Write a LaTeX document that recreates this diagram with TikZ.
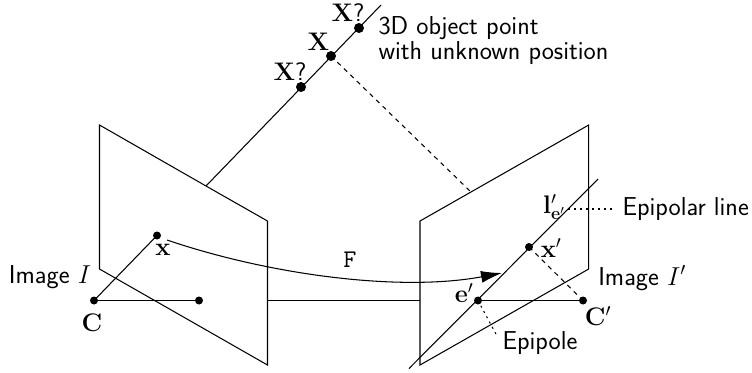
\documentclass[tikz,border=0pt]{standalone}
\usepackage{fix-cm}
\usetikzlibrary{arrows.meta}
\begin{document}
\begin{tikzpicture}[x=1bp,y=-1bp,line width=1.05bp,
  dot/.style={circle,fill=black,inner sep=0pt,minimum size=8bp},
  bigdot/.style={circle,fill=black,inner sep=0pt,minimum size=10bp},
  lab/.style={inner sep=0pt,font=\fontsize{26}{28}\selectfont\sffamily},
  mlab/.style={inner sep=0pt,font=\fontsize{25.5}{28}\selectfont},
  dsh/.style={dash pattern=on 4.5bp off 4.5bp},
  dtd/.style={dash pattern=on 2bp off 4bp}]
\useasboundingbox (0,0) rectangle (752,372);
% planes
\draw (206,186) -- (99.5,125) -- (99.5,269) -- (267.5,365) -- (267.5,221) -- cycle;
\draw (420,365) -- (420,221) -- (588.7,125) -- (588.7,269) -- cycle;
\coordinate (pltop) at (206,186);
% nodes
\node[dot] (x) at (157,235.5) {};
\node[dot] (c) at (94,300.5) {};
\node[dot] (p) at (199,300.5) {};
\node[dot] (xp) at (529,247) {};
\node[dot] (ep) at (478,300.5) {};
\node[dot] (cp) at (583,300.5) {};
\node[bigdot] (x1) at (301,87) {};
\node[bigdot] (x2) at (331,56) {};
\node[bigdot] (x3) at (359,28) {};
\coordinate (rayend) at (381,5);
\coordinate (dshend) at (471,192);
\coordinate (la) at (409,368.5);
\coordinate (lb) at (598,179);
\coordinate (bl) at (267.5,300.5);
\coordinate (br) at (420,300.5);
\coordinate (fa) at (167,240);
\coordinate (fb) at (502,273);
\coordinate (ela) at (568,209);
\coordinate (elb) at (612,209);
\coordinate (epa) at (478,300.5);
\coordinate (epb) at (497,336);
% connectors
\draw (pltop) -- (rayend);
\draw[dsh] (x2.center) -- (dshend);
\draw (c.center) -- (x.center);
\draw (c.center) -- (p.center);
\draw (bl) -- (br);
\draw (ep.center) -- (cp.center);
\draw (la) -- (lb);
\draw[dsh] (xp.center) -- (cp.center);
\draw[dtd] (ela) -- (elb);
\draw[dtd] (epa) -- (epb);
\draw[-{Latex[length=21bp,width=12bp]}] (fa) .. controls (270,275) and (400,292) .. (fb);
% labels
\node[mlab] (tx) at (163,250) {$\mathbf{x}$};
\node[mlab] (tc) at (92,323) {$\mathbf{C}$};
\node[lab] (ti) at (50,277) {Image $I$};
\node[mlab] (tf) at (350,260) {$\mathtt{F}$};
\node[mlab] (tl) at (554,207) {$\mathbf{l}'_{\mathbf{e}'}$};
\node[lab,anchor=west] (tel) at (622,209) {Epipolar line};
\node[mlab] (txp) at (551,248) {$\mathbf{x}'$};
\node[lab] (tip) at (642,278) {Image $I'$};
\node[mlab] (tep) at (464,293) {$\mathbf{e}'$};
\node[mlab] (tcp) at (598,316) {$\mathbf{C}'$};
\node[lab,anchor=west] (tepi) at (502,343) {Epipole};
\node[mlab] (tx1) at (290,72) {$\mathbf{X}$\textsf{?}};
\node[mlab] (tx2) at (318.5,42) {$\mathbf{X}$};
\node[mlab] (tx3) at (348,13) {$\mathbf{X}$\textsf{?}};
\node[lab,anchor=west] (t3a) at (378,28) {3D object point};
\node[lab,anchor=west] (t3b) at (378,53) {with unknown position};
\end{tikzpicture}
\end{document}
